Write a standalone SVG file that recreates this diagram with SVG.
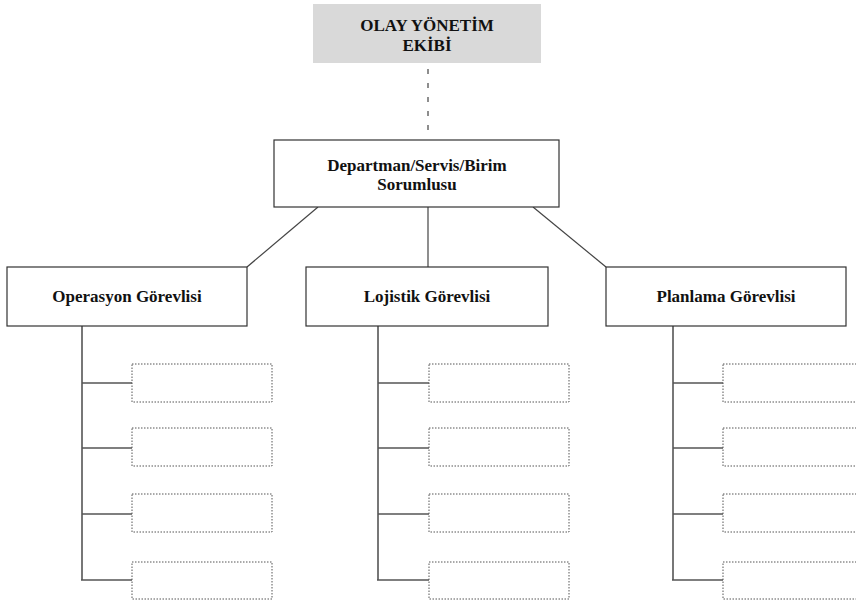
<svg xmlns="http://www.w3.org/2000/svg" width="856" height="601" viewBox="0 0 856 601">
<style>
  .t { font-family: "Liberation Serif", "Times New Roman", serif; font-weight: bold; font-size: 17px; fill: #111; text-anchor: middle; }
  .box { fill: #fff; stroke: #333; stroke-width: 1.2; }
  .dot { fill: #fff; stroke: #555; stroke-width: 1; stroke-dasharray: 1.5 1.5; }
  .ln { stroke: #444; stroke-width: 1.2; fill: none; }
  .trunk { stroke: #777; stroke-width: 2; fill: none; }
  .br { stroke: #555; stroke-width: 1.5; fill: none; }
</style>
<rect width="856" height="601" fill="#fff"/>
<g id="connectors">
  <line class="ln" x1="428" y1="69" x2="428" y2="134" stroke-dasharray="5 9"/>
  <line class="ln" x1="318" y1="207" x2="247" y2="267"/>
  <line class="ln" x1="428" y1="207" x2="428" y2="267"/>
  <line class="ln" x1="533" y1="207" x2="606" y2="267"/>
  <path class="trunk" d="M82 326 V580"/>
  <path class="br" d="M82 383 H132 M82 448 H132 M82 514 H132 M81 580 H132"/>
  <path class="trunk" d="M378 326 V580"/>
  <path class="br" d="M378 383 H429 M378 448 H429 M378 514 H429 M377 580 H429"/>
  <path class="trunk" d="M673 326 V580"/>
  <path class="br" d="M673 383 H723 M673 448 H723 M673 514 H723 M672 580 H723"/>
</g>
<g id="olay">
  <rect x="313" y="4" width="228" height="59" fill="#d9d9d9"/>
  <text class="t" x="427" y="31">OLAY YÖNETİM</text>
  <text class="t" x="427" y="51">EKİBİ</text>
</g>
<g id="dept">
  <rect class="box" x="274" y="140" width="285" height="67"/>
  <text class="t" x="417" y="171">Departman/Servis/Birim</text>
  <text class="t" x="417" y="190">Sorumlusu</text>
</g>
<g id="operasyon">
  <rect class="box" x="7" y="267" width="240" height="59"/>
  <text class="t" x="127" y="302">Operasyon Görevlisi</text>
</g>
<g id="lojistik">
  <rect class="box" x="306" y="267" width="242" height="59"/>
  <text class="t" x="427" y="302">Lojistik Görevlisi</text>
</g>
<g id="planlama">
  <rect class="box" x="606" y="267" width="240" height="59"/>
  <text class="t" x="726" y="302">Planlama Görevlisi</text>
</g>
<g id="op-sub">
  <rect class="dot" x="132" y="364" width="140" height="38"/>
  <rect class="dot" x="132" y="428" width="140" height="38"/>
  <rect class="dot" x="132" y="494" width="140" height="38"/>
  <rect class="dot" x="132" y="562" width="140" height="37"/>
</g>
<g id="loj-sub">
  <rect class="dot" x="429" y="364" width="140" height="38"/>
  <rect class="dot" x="429" y="428" width="140" height="38"/>
  <rect class="dot" x="429" y="494" width="140" height="38"/>
  <rect class="dot" x="429" y="562" width="140" height="37"/>
</g>
<g id="plan-sub">
  <rect class="dot" x="723" y="364" width="140" height="38"/>
  <rect class="dot" x="723" y="428" width="140" height="38"/>
  <rect class="dot" x="723" y="494" width="140" height="38"/>
  <rect class="dot" x="723" y="562" width="140" height="37"/>
</g>
</svg>
